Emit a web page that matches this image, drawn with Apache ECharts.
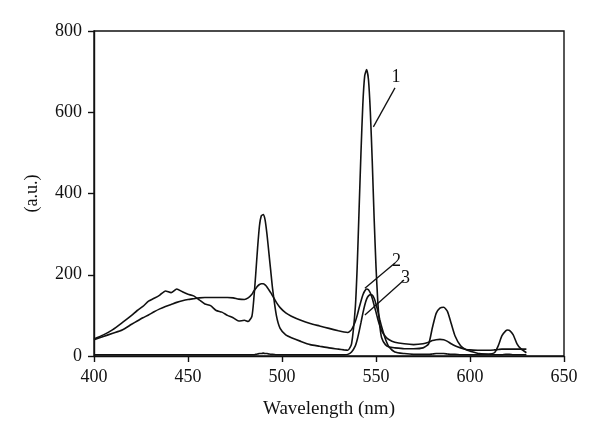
<!DOCTYPE html>
<html>
<head>
<meta charset="utf-8">
<script src="https://cdn.jsdelivr.net/npm/echarts@6/dist/echarts.min.js"></script>
<style>
html,body{margin:0;padding:0;background:#fff;}
#chart{width:600px;height:442px;}
</style>
</head>
<body>
<div id="chart"></div>
<script>
// Wavelength grid (nm)
var wavelengths = [400,405,410,415,420,423,426,429,432,435,438,441,444,447,450,453,456,459,462,465,468,471,474,477,480,482,484,485,486,487,488,489,490,491,492,493,494,495,497,499,502,505,510,515,520,525,530,533,535,537,539,540,541,542,543,544,545,546,547,548,549,550,551,552,553,555,557,560,565,570,575,578,580,582,584,586,588,590,592,595,598,600,605,610,613,615,617,619,620,621,623,625,627,630];

// Curve 1
var curve1 = [42,52,65,82,100,112,122,135,142,150,160,156,165,158,152,148,138,128,124,112,108,100,94,86,88,85,98,140,200,265,320,345,348,335,300,255,210,165,100,68,52,45,36,28,24,20,17,15,14,30,120,220,360,500,620,690,705,680,600,480,340,220,130,75,45,28,22,20,18,18,20,30,70,105,118,120,110,80,50,25,15,12,6,5,8,25,50,62,64,63,52,30,18,8];

// Curve 2
var curve2 = [40,48,56,64,78,86,94,101,109,116,122,127,132,136,139,141,143,144,144,144,144,144,143,140,139,143,152,160,166,172,176,178,178,175,170,163,156,148,132,119,106,98,88,80,74,68,62,59,58,65,85,100,118,135,150,160,165,163,155,142,125,108,90,75,62,48,40,34,30,28,30,34,38,40,41,40,36,30,25,20,16,15,14,14,15,16,17,17,17,17,17,17,17,17];

// Curve 3
var curve3 = [3,3,3,3,3,3,3,3,3,3,3,3,3,3,3,3,3,3,3,3,3,3,3,3,3,3,3,3,4,5,6,6,7,6,6,5,4,4,3,3,3,3,3,3,3,3,3,3,4,10,25,40,60,82,105,125,140,148,151,150,142,128,110,90,72,42,22,10,6,4,4,4,5,6,6,6,5,4,4,3,3,3,3,3,3,3,3,4,4,4,3,3,3,3];

// Series labels and their leader lines: [curve end x, y], [text end x, y]
var seriesNames = ['1', '2', '3'];
var leaderStart = [[548.6, 564], [544.1, 167], [544.1, 101]];
var leaderEnd = [[560.1, 660], [560.1, 229], [564.9, 187]];

// Axis ticks
var xMin = 400, xMax = 650, xStep = 50;
var yMin = 0, yMax = 800, yStep = 200;

var FONT = 'Liberation Serif';
var curves = [curve1, curve2, curve3];

var series = curves.map(function (vals, k) {
  return {
    name: seriesNames[k],
    type: 'line',
    showSymbol: false,
    smooth: 0.2,
    lineStyle: { color: '#111', width: 1.6 },
    data: wavelengths.map(function (x, i) { return [x, vals[i]]; }),
    markLine: {
      silent: true,
      symbol: ['none', 'none'],
      lineStyle: { color: '#111', width: 1.3, type: 'solid' },
      label: {
        show: true, position: 'end', formatter: seriesNames[k],
        fontFamily: FONT, fontSize: 18, color: '#111', distance: 2
      },
      data: [[{ coord: leaderStart[k] }, { coord: leaderEnd[k] }]]
    }
  };
});

var chart = echarts.init(document.getElementById('chart'), null, { renderer: 'canvas' });
chart.setOption({
  animation: false,
  backgroundColor: '#fff',
  grid: { left: 94, right: 36, top: 31, bottom: 86, show: true, borderColor: '#111', borderWidth: 1.4, backgroundColor: 'transparent' },
  xAxis: {
    type: 'value', min: xMin, max: xMax, interval: xStep,
    name: 'Wavelength (nm)', nameLocation: 'middle', nameGap: 44,
    nameTextStyle: { fontFamily: FONT, fontSize: 19, color: '#111' },
    axisLine: { show: true, lineStyle: { color: '#111', width: 1.4 } },
    axisTick: { show: true, inside: false, length: 6, lineStyle: { color: '#111', width: 1.4 } },
    axisLabel: { fontFamily: FONT, fontSize: 18, color: '#111', margin: 12 },
    splitLine: { show: false }
  },
  yAxis: {
    type: 'value', min: yMin, max: yMax, interval: yStep,
    name: '(a.u.)', nameLocation: 'middle', nameGap: 53,
    nameTextStyle: { fontFamily: FONT, fontSize: 18, color: '#111' },
    axisLine: { show: true, lineStyle: { color: '#111', width: 1.4 } },
    axisTick: { show: true, inside: false, length: 6, lineStyle: { color: '#111', width: 1.4 } },
    axisLabel: { fontFamily: FONT, fontSize: 18, color: '#111', margin: 12 },
    splitLine: { show: false }
  },
  series: series
});
</script>
</body>
</html>
